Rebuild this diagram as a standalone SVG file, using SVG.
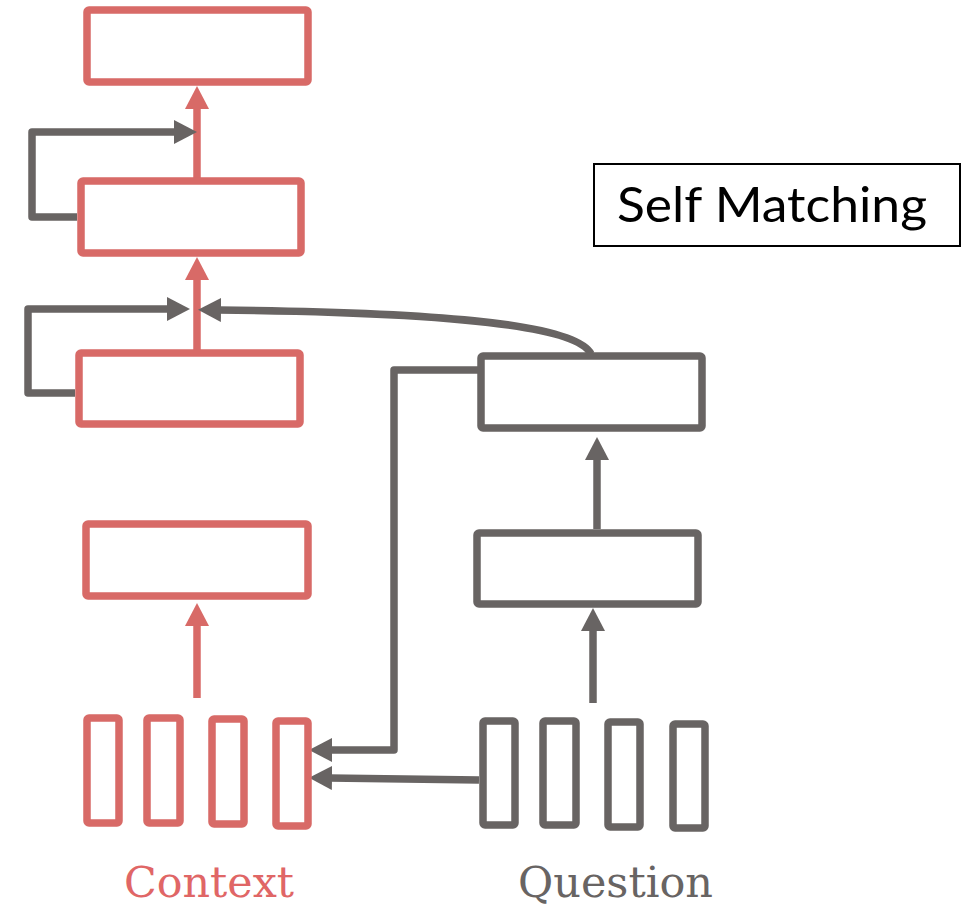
<svg xmlns="http://www.w3.org/2000/svg" width="963" height="907" viewBox="0 0 963 907">
<style>
.r{fill:#fff;stroke:#d86a67;stroke-width:7.5;stroke-linejoin:round}
.g{fill:#fff;stroke:#686463;stroke-width:7.5;stroke-linejoin:round}
.rl{fill:none;stroke:#d86a67;stroke-width:7.5}
.gl{fill:none;stroke:#686463;stroke-width:7.5;stroke-linejoin:round}
.lbl{font-family:"DejaVu Serif","Liberation Serif",serif;font-size:42px}
</style>
<defs>
<marker id="ah-r" markerUnits="userSpaceOnUse" markerWidth="24" markerHeight="24" refX="3" refY="12" orient="auto"><path d="M0,0 L23,12 L0,24 z" fill="#d86a67"/></marker>
<marker id="ah-g" markerUnits="userSpaceOnUse" markerWidth="24" markerHeight="24" refX="3" refY="12" orient="auto"><path d="M0,0 L23,12 L0,24 z" fill="#686463"/></marker>
</defs>
<rect width="963" height="907" fill="#fff"/>
<g id="connectors">
<line class="rl" x1="197" y1="181" x2="197" y2="106" marker-end="url(#ah-r)"/>
<line class="rl" x1="197" y1="353" x2="197" y2="277" marker-end="url(#ah-r)"/>
<line class="rl" x1="197" y1="698" x2="197" y2="623" marker-end="url(#ah-r)"/>
<path class="gl" d="M77 217 H32 V132 H177" marker-end="url(#ah-g)"/>
<path class="gl" d="M75 393 H28 V309 H170" marker-end="url(#ah-g)"/>
<path class="gl" d="M591 354 C575 322 420 312 218 310" marker-end="url(#ah-g)"/>
<path class="gl" d="M481 370 H394 V750 H329" marker-end="url(#ah-g)"/>
<path class="gl" d="M479 780 L329 778" marker-end="url(#ah-g)"/>
<line class="gl" x1="597" y1="529" x2="597" y2="457" marker-end="url(#ah-g)"/>
<line class="gl" x1="593" y1="703" x2="593" y2="628" marker-end="url(#ah-g)"/>
</g>
<g id="ctx-top"><rect class="r" x="87" y="10" width="221" height="72" rx="2"/></g>
<g id="ctx-l3"><rect class="r" x="81" y="181" width="220" height="72" rx="2"/></g>
<g id="ctx-l2"><rect class="r" x="79" y="353" width="221" height="71" rx="2"/></g>
<g id="ctx-l1"><rect class="r" x="86" y="524" width="222" height="72" rx="2"/></g>
<g id="ctx-tokens">
<rect class="r" x="87" y="718" width="32" height="105" rx="2"/>
<rect class="r" x="147" y="718" width="33" height="105" rx="2"/>
<rect class="r" x="212" y="719" width="32" height="105" rx="2"/>
<rect class="r" x="276" y="721" width="32" height="105" rx="2"/>
</g>
<g id="q-l2"><rect class="g" x="481" y="356" width="221" height="72" rx="2"/></g>
<g id="q-l1"><rect class="g" x="477" y="533" width="221" height="71" rx="2"/></g>
<g id="q-tokens">
<rect class="g" x="483" y="721" width="32" height="104" rx="2"/>
<rect class="g" x="543" y="721" width="33" height="104" rx="2"/>
<rect class="g" x="608" y="722" width="32" height="105" rx="2"/>
<rect class="g" x="673" y="724" width="32" height="104" rx="2"/>
</g>
<g id="self-matching">
<rect x="594" y="164" width="366" height="82" fill="#fff" stroke="#000" stroke-width="2"/>
<text x="617" y="222" font-family="Lato,'Liberation Sans',sans-serif" font-size="48" fill="#000" textLength="310" lengthAdjust="spacingAndGlyphs">Self Matching</text>
</g>
<g id="labels">
<text class="lbl" x="124" y="897" fill="#e06666" textLength="170" lengthAdjust="spacingAndGlyphs">Context</text>
<text class="lbl" x="518" y="897" fill="#686463" textLength="195" lengthAdjust="spacingAndGlyphs">Question</text>
</g>
</svg>
